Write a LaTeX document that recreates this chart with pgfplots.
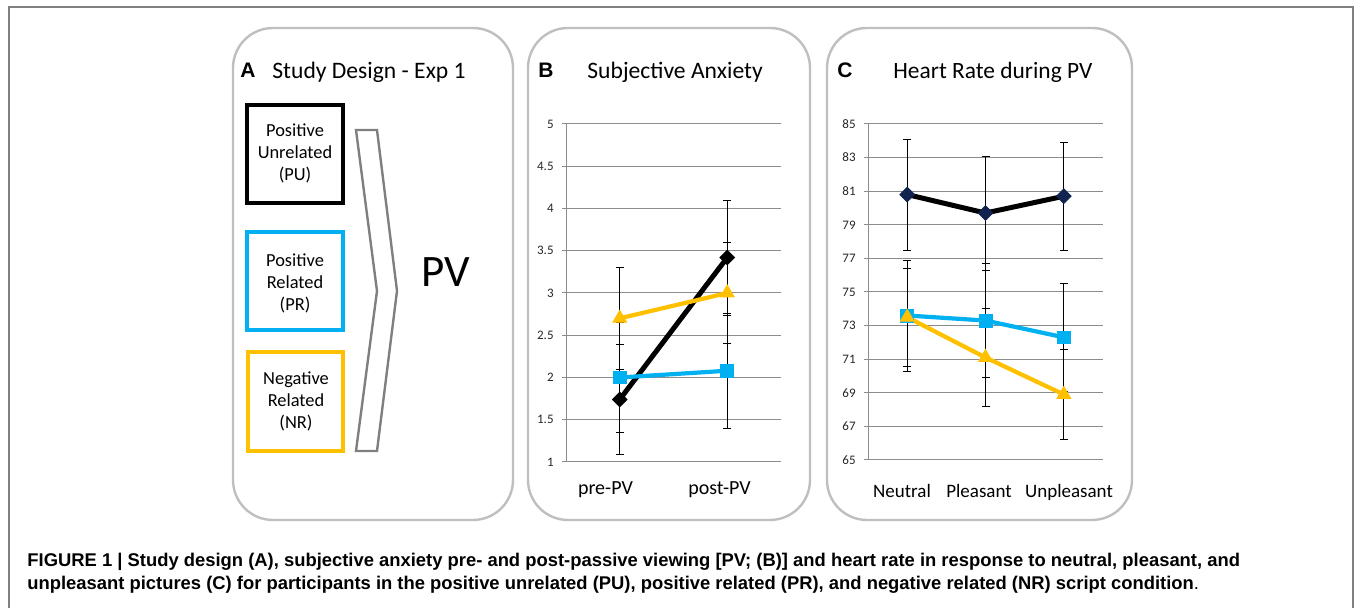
\documentclass[border=0pt]{standalone}
\usepackage{fontspec}
\setmainfont{Carlito}
\newfontfamily\arialfont{Liberation Sans}
\usepackage{pgfplots}
\pgfplotsset{compat=1.18}
\definecolor{pbox}{HTML}{BFBFBF}
\definecolor{cblue}{HTML}{00B0F0}
\definecolor{corange}{HTML}{FFC000}
\definecolor{navy}{HTML}{10244F}
\definecolor{gridc}{HTML}{8C8C8C}
\definecolor{chev}{HTML}{7F7F7F}
\pgfplotsset{
  panel/.style={
    scale only axis,
    axis x line*=bottom, axis y line*=left,
    axis line style={gridc, line width=0.5pt},
    ymajorgrids, grid style={gridc, line width=0.5pt},
    xtick style={draw=none},
    ytick style={gridc, line width=0.5pt},
    tick align=outside, major tick length=2pt,
    yticklabel style={font=\fontsize{6.5}{7}\selectfont, text=black!85, inner sep=0pt, xshift=-4pt},
    /pgf/number format/assume math mode=true,
    clip=false,
  },
  errs/.style={forget plot, draw=none, mark=none,
    error bars/.cd, y dir=both, y explicit,
    error bar style={draw=black, line width=0.4pt},
    error mark options={rotate=90, draw=black, mark size=2pt, line width=0.4pt}},
}
\begin{document}
\begin{tikzpicture}
\useasboundingbox (0,0) rectangle (677.5pt,304pt);
\begin{scope}[x=0.5pt,y=-0.5pt,yshift=304pt]
  % outer frame
  \draw[gray, line width=1pt] (9,608) -- (9,7) -- (1353,7) -- (1353,608);
  % panels
  \draw[pbox, line width=1.2pt, rounded corners=20pt] (233,28) rectangle (513,520);
  \draw[pbox, line width=1.2pt, rounded corners=20pt] (528,28) rectangle (810,520);
  \draw[pbox, line width=1.2pt, rounded corners=20pt] (827,28) rectangle (1132,520);
  % panel letters and titles
  \node[anchor=base west, inner sep=0pt, font=\arialfont\bfseries\fontsize{10.5}{12}\selectfont] at (240,78) {A};
  \node[anchor=base west, inner sep=0pt, font=\arialfont\bfseries\fontsize{10.5}{12}\selectfont] at (538,78) {B};
  \node[anchor=base west, inner sep=0pt, font=\arialfont\bfseries\fontsize{10.5}{12}\selectfont] at (837,78) {C};
  \node[anchor=base west, inner sep=0pt, font=\fontsize{11.8}{14}\selectfont] at (272,79) {Study Design - Exp 1};
  \node[anchor=base west, inner sep=0pt, font=\fontsize{11.8}{14}\selectfont] at (587,79) {Subjective Anxiety};
  \node[anchor=base west, inner sep=0pt, font=\fontsize{11.7}{14}\selectfont] at (893,79) {Heart Rate during PV};
  % study design boxes
  \draw[black, line width=2pt] (247,105) rectangle (343,203);
  \draw[cblue, line width=2pt] (247,232) rectangle (343,330);
  \draw[corange, line width=2pt] (248,352) rectangle (343,451);
  \node[align=center, inner sep=0pt, font=\fontsize{9.2}{11}\selectfont] at (295,153) {Positive\\Unrelated\\(PU)};
  \node[align=center, inner sep=0pt, font=\fontsize{9.2}{11}\selectfont] at (295,283) {Positive\\Related\\(PR)};
  \node[align=center, inner sep=0pt, font=\fontsize{9.2}{11}\selectfont] at (296,401) {Negative\\Related\\(NR)};
  \draw[chev, line width=1.2pt] (356,130) -- (377,130) -- (397,291) -- (377,451) -- (356,451) -- (377,291) -- cycle;
  \node[anchor=base west, inner sep=0pt, font=\fontsize{22.5}{24}\selectfont] at (421,287) {PV};
  % caption
  \node[anchor=base west, inner sep=0pt, font=\arialfont\bfseries\fontsize{9.2}{10}\selectfont] at (27,567) {FIGURE 1 | Study design (A), subjective anxiety pre- and post-passive viewing [PV; (B)] and heart rate in response to neutral, pleasant, and};
  \node[anchor=base west, inner sep=0pt, font=\arialfont\bfseries\fontsize{9.2}{10}\selectfont] at (27,590) {unpleasant pictures (C) for participants in the positive unrelated (PU), positive related (PR), and negative related (NR) script condition\mdseries .};
\end{scope}

% Panel B
\begin{axis}[panel, at={(283pt,73pt)}, anchor=south west,
  width=107.5pt, height=169pt,
  xmin=0.5, xmax=2.5, ymin=1, ymax=5,
  xtick={0.867,1.928}, xticklabels={pre-PV, post-PV},
  xticklabel style={anchor=base, font=\fontsize{10}{12}\selectfont, yshift=-14.5pt},
  ytick={1,1.5,2,2.5,3,3.5,4,4.5,5},
  yticklabels={1,1.5,2,2.5,3,3.5,4,4.5,5}]
  \addplot[errs] coordinates {(1,1.74) +- (0,0.65) (2,3.42) +- (0,0.68)};
  \addplot[errs] coordinates {(1,2.0) +- (0,0.65) (2,2.08) +- (0,0.68)};
  \addplot[errs] coordinates {(1,2.7) +- (0,0.6) (2,3.0) +- (0,0.6)};
  \addplot[black, line width=2.5pt, mark=square*, mark size=2.6pt,
    mark options={rotate=45, solid, line width=0.4pt, fill=black}] coordinates {(1,1.74) (2,3.42)};
  \addplot[cblue, line width=2.1pt, mark=square*, mark size=3.2pt,
    mark options={solid, line width=0.4pt, fill=cblue}] coordinates {(1,2.0) (2,2.08)};
  \addplot[corange, line width=2.1pt, mark=triangle*, mark size=4pt,
    mark options={solid, line width=0.4pt, fill=corange}] coordinates {(1,2.7) (2,3.0)};
\end{axis}

% Panel C
\begin{axis}[panel, at={(434pt,74pt)}, anchor=south west,
  width=117.5pt, height=168pt,
  xmin=0.5, xmax=3.5, ymin=65, ymax=85,
  xtick={0.934,1.917,3.066}, xticklabels={Neutral, Pleasant, Unpleasant},
  xticklabel style={anchor=base, font=\fontsize{9.5}{11}\selectfont, yshift=-17pt},
  ytick={65,67,69,71,73,75,77,79,81,83,85},
  yticklabels={65,67,69,71,73,75,77,79,81,83,85}]
  \addplot[errs] coordinates {(1,80.8) +- (0,3.3) (2,79.7) +- (0,3.4) (3,80.7) +- (0,3.2)};
  \addplot[errs] coordinates {(1,73.6) +- (0,3.3) (2,73.3) +- (0,3.4) (3,72.3) +- (0,3.2)};
  \addplot[errs] coordinates {(1,73.5) +- (0,2.9) (2,71.1) +- (0,2.9) (3,68.9) +- (0,2.7)};
  \addplot[black, line width=2.5pt, mark=square*, mark size=2.6pt,
    mark options={rotate=45, solid, line width=0.4pt, draw=navy, fill=navy}] coordinates {(1,80.8) (2,79.7) (3,80.7)};
  \addplot[cblue, line width=2.1pt, mark=square*, mark size=3.2pt,
    mark options={solid, line width=0.4pt, fill=cblue}] coordinates {(1,73.6) (2,73.3) (3,72.3)};
  \addplot[corange, line width=2.1pt, mark=triangle*, mark size=4pt,
    mark options={solid, line width=0.4pt, fill=corange}] coordinates {(1,73.5) (2,71.1) (3,68.9)};
\end{axis}
\end{tikzpicture}
\end{document}
